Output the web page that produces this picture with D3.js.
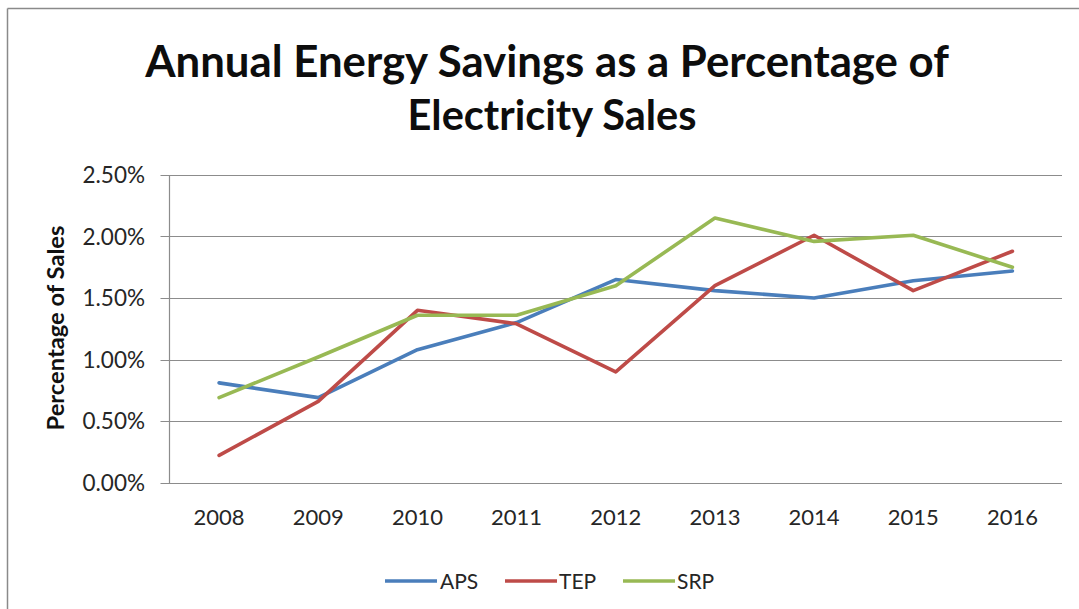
<!DOCTYPE html>
<html>
<head>
<meta charset="utf-8">
<script src="https://cdn.jsdelivr.net/npm/d3@7"></script>
<style>
  html, body { margin: 0; padding: 0; background: #fff; }
  svg { display: block; }
  text { font-family: Lato, "Open Sans", sans-serif; }
</style>
</head>
<body>
<svg id="chart" width="1079" height="609"></svg>
<script>
const years = ["2008","2009","2010","2011","2012","2013","2014","2015","2016"];
const aps = [0.81, 0.69, 1.08, 1.30, 1.65, 1.56, 1.50, 1.64, 1.72];
const tep = [0.22, 0.66, 1.40, 1.29, 0.90, 1.60, 2.01, 1.56, 1.88];
const srp = [0.69, 1.02, 1.36, 1.36, 1.60, 2.15, 1.96, 2.01, 1.75];
const seriesNames = ["APS", "TEP", "SRP"];
const seriesColors = ["#4A7EBB", "#BE4B48", "#98B954"];
const yTicks = [0, 0.5, 1.0, 1.5, 2.0, 2.5];
const titleLines = ["Annual Energy Savings as a Percentage of", "Electricity Sales"];
const yTitle = "Percentage of Sales";

const seriesData = [aps, tep, srp];

const svg = d3.select("#chart");
const W = 1079, H = 609;

// outer chart border (top and left visible)
svg.append("line").attr("x1", 7.5).attr("x2", W).attr("y1", 8.5).attr("y2", 8.5)
  .attr("stroke", "#8a8a8a").attr("stroke-width", 1.5);
svg.append("line").attr("x1", 7.5).attr("x2", 7.5).attr("y1", 8.5).attr("y2", H)
  .attr("stroke", "#8a8a8a").attr("stroke-width", 1.5);

const plot = { left: 169.5, right: 1062, top: 175, bottom: 482.5 };

const x = d3.scaleBand().domain(years).range([plot.left, plot.right]).padding(0);
const y = d3.scaleLinear().domain([0, 2.5]).range([plot.bottom, plot.top]);

// gridlines
const g = svg.append("g");
g.selectAll("line.grid").data(yTicks).enter().append("line")
  .attr("class", "grid")
  .attr("x1", plot.left - 9).attr("x2", plot.right)
  .attr("y1", d => Math.round(y(d)) + 0.5).attr("y2", d => Math.round(y(d)) + 0.5)
  .attr("stroke", "#8c8c8c").attr("stroke-width", 1.2);

// y axis line
g.append("line").attr("x1", plot.left).attr("x2", plot.left)
  .attr("y1", Math.round(y(2.5)) + 0.5).attr("y2", Math.round(y(0)) + 0.5)
  .attr("stroke", "#8c8c8c").attr("stroke-width", 1.2);

// y tick labels
g.selectAll("text.ylab").data(yTicks).enter().append("text")
  .attr("class", "ylab")
  .attr("x", 145).attr("y", d => y(d))
  .attr("dy", "0.36em")
  .attr("text-anchor", "end")
  .attr("font-size", 22.5)
  .attr("fill", "#262626")
  .text(d => d3.format(".2f")(d) + "%");

// x tick labels
g.selectAll("text.xlab").data(years).enter().append("text")
  .attr("class", "xlab")
  .attr("x", d => x(d) + x.bandwidth() / 2)
  .attr("y", 525)
  .attr("text-anchor", "middle")
  .attr("font-size", 22)
  .attr("fill", "#262626")
  .text(d => d);

// y axis title
const yt = svg.append("text")
  .attr("transform", "translate(64,328) rotate(-90)")
  .attr("text-anchor", "middle")
  .attr("font-size", 20)
  .attr("font-weight", "bold")
  .attr("fill", "#111")
  .text(yTitle);
{
  const w = yt.node().getComputedTextLength();
  yt.attr("font-size", 20 * 205 / w);
}

// series lines
const line = d3.line()
  .x((d, i) => x(years[i]) + x.bandwidth() / 2)
  .y(d => y(d));

svg.append("g").selectAll("path").data(seriesData).enter().append("path")
  .attr("d", d => line(d))
  .attr("fill", "none")
  .attr("stroke", (d, i) => seriesColors[i])
  .attr("stroke-width", 3.6)
  .attr("stroke-linejoin", "round")
  .attr("stroke-linecap", "round");

// title
const titleCenters = [547, 552];
const titleWidths = [804, 289];
const titleBaselines = [77, 130];
titleLines.forEach((t, i) => {
  const tx = svg.append("text")
    .attr("x", titleCenters[i]).attr("y", titleBaselines[i])
    .attr("text-anchor", "middle")
    .attr("font-weight", "bold")
    .attr("font-size", 40)
    .attr("fill", "#0d0d0d")
    .text(t);
  const w = tx.node().getComputedTextLength();
  tx.attr("font-size", 40 * titleWidths[i] / w);
});

// legend
const legendItems = [
  { x1: 385, x2: 437, tx: 440 },
  { x1: 505, x2: 557, tx: 559 },
  { x1: 623, x2: 675, tx: 677 }
];
const leg = svg.append("g");
seriesNames.forEach((n, i) => {
  const it = legendItems[i];
  leg.append("line").attr("x1", it.x1).attr("x2", it.x2)
    .attr("y1", 581).attr("y2", 581)
    .attr("stroke", seriesColors[i]).attr("stroke-width", 3.6);
  leg.append("text").attr("x", it.tx).attr("y", 581).attr("dy", "0.36em")
    .attr("font-size", 21).attr("fill", "#262626").text(n);
});
</script>
</body>
</html>
